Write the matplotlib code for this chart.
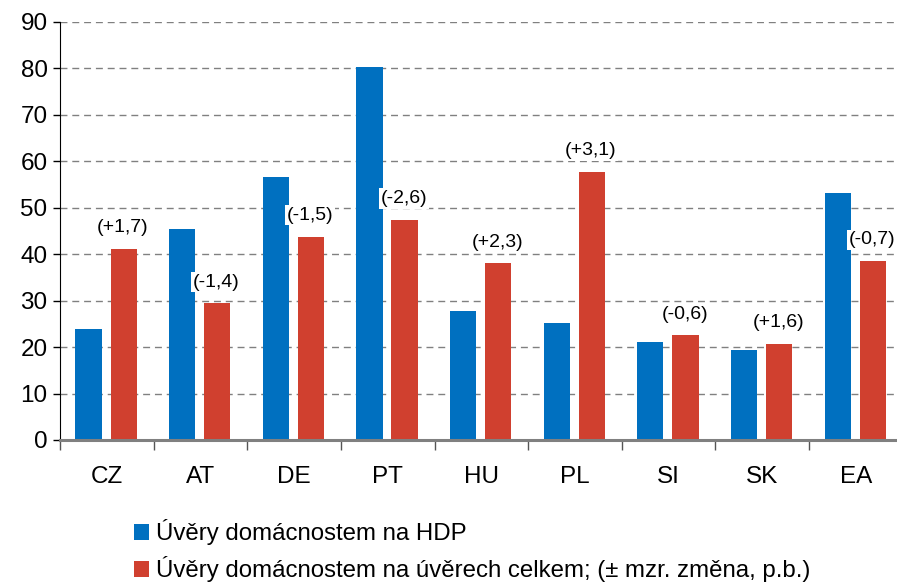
import numpy as np
import matplotlib.pyplot as plt
from matplotlib.ticker import FixedLocator

plt.rcParams['font.family'] = ['Liberation Sans', 'DejaVu Sans']

countries = ["CZ", "AT", "DE", "PT", "HU", "PL", "SI", "SK", "EA"]
loans_gdp = [23.8, 45.5, 56.7, 80.3, 27.7, 25.1, 21.0, 19.3, 53.2]
loans_share = [41.1, 29.4, 43.8, 47.4, 38.0, 57.7, 22.5, 20.6, 38.5]
changes = ["(+1,7)", "(-1,4)", "(-1,5)", "(-2,6)", "(+2,3)", "(+3,1)", "(-0,6)", "(+1,6)", "(-0,7)"]

blue = "#0070C0"
red = "#D0402F"

fig = plt.figure(figsize=(8.97, 5.83), dpi=100)
ax = fig.add_axes([0.0669, 0.2453, 0.9395, 0.717])

x = np.arange(len(countries)) + 0.5
w = 0.28
ax.bar(x - 0.195, loans_gdp, width=w, color=blue, zorder=2,
       label="Úvěry domácnostem na HDP")
ax.bar(x + 0.18, loans_share, width=w, color=red, zorder=2,
       label="Úvěry domácnostem na úvěrech celkem; (± mzr. změna, p.b.)")

for xi, v, t in zip(x, loans_share, changes):
    ax.text(xi + 0.17, v + 4.6, t, ha="center", va="center", fontsize=14, zorder=5,
            bbox=dict(facecolor="white", edgecolor="none", pad=1.2))

ax.set_xlim(0, len(countries))
ax.set_ylim(0, 90)
ax.set_yticks(np.arange(0, 91, 10))
ax.yaxis.grid(True, color="#808080", linestyle=(0, (5, 3.5)), linewidth=1)
ax.set_axisbelow(True)

ax.set_xticks(x)
ax.set_xticklabels(countries)
ax.xaxis.set_minor_locator(FixedLocator(np.arange(0, len(countries) + 1)))
ax.tick_params(axis="x", which="major", length=0, pad=19, labelsize=17.5)
ax.tick_params(axis="x", which="minor", length=7, width=1, color="#555555", direction="out")
ax.tick_params(axis="y", length=5, width=1, pad=4, labelsize=17.5, direction="out")

ax.spines["top"].set_visible(False)
ax.spines["right"].set_visible(False)
ax.spines["left"].set_color("black")
ax.spines["bottom"].set_color("#808080")
ax.spines["bottom"].set_linewidth(2.2)
ax.spines["bottom"].set_zorder(3)

handles, labels = ax.get_legend_handles_labels()
fig.legend(handles, labels, loc="upper left", bbox_to_anchor=(0.149, 0.109),
           frameon=False, fontsize=17.3, handlelength=0.62, handleheight=0.62,
           handletextpad=0.3, labelspacing=0.45, borderpad=0, borderaxespad=0)

fig.savefig("out.png", dpi=100)
